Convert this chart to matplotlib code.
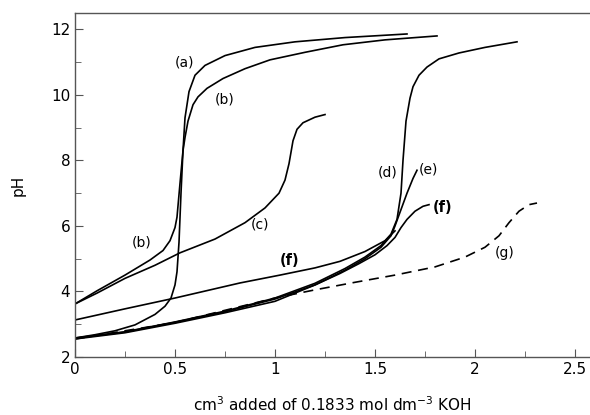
import matplotlib.pyplot as plt
from matplotlib.ticker import MultipleLocator

# titration curves, pH vs volume of KOH added
a_x = [0, 0.1, 0.2, 0.3, 0.4, 0.45, 0.48, 0.5, 0.51, 0.52, 0.53, 0.54, 0.55, 0.57, 0.6, 0.65, 0.75, 0.9, 1.1, 1.35, 1.66]
a_y = [2.58, 2.68, 2.8, 2.98, 3.3, 3.55, 3.8, 4.2, 4.6, 5.5, 7.0, 8.3, 9.3, 10.1, 10.6, 10.9, 11.2, 11.45, 11.62, 11.75, 11.86]

b_x = [0, 0.11, 0.25, 0.375, 0.44, 0.475, 0.5, 0.51, 0.525, 0.54, 0.55, 0.565, 0.59, 0.615, 0.66, 0.74, 0.85, 0.975, 1.15, 1.34, 1.55, 1.81]
b_y = [3.62, 4.02, 4.5, 4.96, 5.25, 5.55, 5.95, 6.27, 7.3, 8.3, 8.7, 9.2, 9.7, 9.94, 10.2, 10.5, 10.8, 11.07, 11.3, 11.53, 11.68, 11.8]

c_x = [0, 0.11, 0.25, 0.4, 0.525, 0.7, 0.85, 0.95, 1.02, 1.05, 1.07, 1.09, 1.11, 1.14, 1.2, 1.25]
c_y = [3.62, 3.95, 4.4, 4.8, 5.18, 5.6, 6.1, 6.55, 7.0, 7.4, 7.9, 8.6, 8.95, 9.15, 9.32, 9.4]

d_x = [0, 0.25, 0.5, 0.75, 1.0, 1.2, 1.35, 1.45, 1.53, 1.58, 1.61, 1.63, 1.64, 1.655, 1.675, 1.69, 1.72, 1.76, 1.82, 1.92, 2.05, 2.21]
d_y = [2.58, 2.77, 3.07, 3.4, 3.8, 4.25, 4.7, 5.05, 5.4, 5.75, 6.2, 7.0, 8.0, 9.2, 9.9, 10.25, 10.6, 10.85, 11.1, 11.28, 11.45, 11.62]

e_x = [0, 0.25, 0.5, 0.75, 1.0, 1.2, 1.35, 1.45, 1.53, 1.58, 1.6, 1.63, 1.66, 1.69, 1.71]
e_y = [2.57, 2.76, 3.06, 3.38, 3.77, 4.2, 4.65, 5.0, 5.35, 5.7, 6.0, 6.5, 7.0, 7.45, 7.7]

f1_x = [0, 0.25, 0.5, 0.825, 1.025, 1.2, 1.325, 1.45, 1.55, 1.6]
f1_y = [3.13, 3.47, 3.8, 4.26, 4.5, 4.72, 4.92, 5.22, 5.55, 5.85]

f2_x = [0, 0.25, 0.5, 0.75, 1.0, 1.2, 1.325, 1.42, 1.5, 1.56, 1.6, 1.63, 1.66, 1.7, 1.74, 1.77]
f2_y = [2.55, 2.74, 3.03, 3.35, 3.7, 4.2, 4.55, 4.85, 5.12, 5.4, 5.65, 5.95, 6.2, 6.45, 6.6, 6.65]

g_x = [0, 0.5, 0.8, 1.0, 1.2, 1.4, 1.6, 1.8, 1.95, 2.05, 2.12, 2.17, 2.22, 2.27, 2.31]
g_y = [2.55, 3.05, 3.5, 3.8, 4.05, 4.28, 4.5, 4.75, 5.05, 5.35, 5.7, 6.1, 6.45, 6.65, 6.7]

labels = ['(a)', '(b)', '(b)', '(c)', '(d)', '(e)', '(f)', '(f)', '(g)']
label_x = [0.55, 0.75, 0.335, 0.925, 1.565, 1.765, 1.84, 1.075, 2.15]
label_y = [10.98, 9.85, 5.48, 6.03, 7.62, 7.72, 6.55, 4.96, 5.17]
label_bold = [False, False, False, False, False, False, True, True, False]

fig = plt.figure(figsize=(5.9, 4.15), dpi=100)
ax = fig.add_axes([75/590, 1-357/415, 515/590, 344/415])

lw = 1.2
ax.plot(g_x, g_y, color='black', lw=lw, linestyle=(0, (6, 4)))
for xs, ys in [(a_x, a_y), (b_x, b_y), (c_x, c_y), (d_x, d_y), (e_x, e_y), (f1_x, f1_y), (f2_x, f2_y)]:
    ax.plot(xs, ys, color='black', lw=lw)

for t, x, y, bold in zip(labels, label_x, label_y, label_bold):
    ax.text(x, y, t, fontsize=10.5 if bold else 10, ha='center', va='center',
            fontweight='bold' if bold else 'normal')

ax.set_xlim(0, 2.575)
ax.set_ylim(2, 12.5)
ax.xaxis.set_major_locator(MultipleLocator(0.5))
ax.xaxis.set_minor_locator(MultipleLocator(0.25))
ax.yaxis.set_major_locator(MultipleLocator(2))
ax.yaxis.set_minor_locator(MultipleLocator(1))
ax.set_xticks([0, 0.5, 1, 1.5, 2, 2.5])
ax.set_xticklabels(['0', '0.5', '1', '1.5', '2', '2.5'])
ax.tick_params(which='both', direction='in', labelsize=11, color='#555555')
ax.tick_params(which='major', length=6)
ax.tick_params(which='minor', length=4)
ax.spines['right'].set_visible(False)
for s in ['left', 'top', 'bottom']:
    ax.spines[s].set_color('#555555')
    ax.spines[s].set_linewidth(1.0)

ax.set_ylabel('pH', fontsize=11, labelpad=18)
ax.set_xlabel('cm$^3$ added of 0.1833 mol dm$^{-3}$ KOH', fontsize=11, labelpad=13)

fig.savefig('out.png', dpi=100)
